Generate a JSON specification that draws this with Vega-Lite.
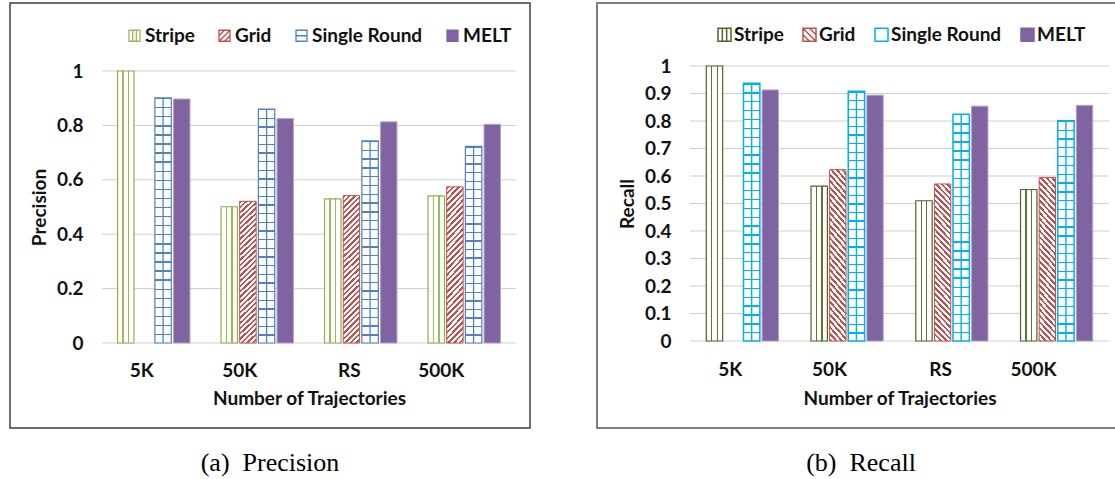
{
"$schema": "https://vega.github.io/schema/vega-lite/v6.json",
"padding": {"left": 9, "top": 2, "right": 0, "bottom": 0},
"spacing": 65,
"config": {"font": "Lato"},
"resolve": {"scale": {"fill": "independent", "stroke": "independent", "shape": "independent", "xOffset": "independent"}, "legend": {"fill": "independent", "stroke": "independent", "shape": "independent"}},
"datasets": {
"prec": [
{"size":"5K","method":"Stripe","v":1.0},
{"size":"5K","method":"Single Round","v":0.901},
{"size":"5K","method":"MELT","v":0.897},
{"size":"50K","method":"Stripe","v":0.501},
{"size":"50K","method":"Grid","v":0.521},
{"size":"50K","method":"Single Round","v":0.86},
{"size":"50K","method":"MELT","v":0.825},
{"size":"RS","method":"Stripe","v":0.53},
{"size":"RS","method":"Grid","v":0.542},
{"size":"RS","method":"Single Round","v":0.743},
{"size":"RS","method":"MELT","v":0.813},
{"size":"500K","method":"Stripe","v":0.541},
{"size":"500K","method":"Grid","v":0.574},
{"size":"500K","method":"Single Round","v":0.723},
{"size":"500K","method":"MELT","v":0.804}
],
"rec": [
{"size":"5K","method":"Stripe","v":1.0},
{"size":"5K","method":"Single Round","v":0.937},
{"size":"5K","method":"MELT","v":0.913},
{"size":"50K","method":"Stripe","v":0.563},
{"size":"50K","method":"Grid","v":0.623},
{"size":"50K","method":"Single Round","v":0.908},
{"size":"50K","method":"MELT","v":0.894},
{"size":"RS","method":"Stripe","v":0.51},
{"size":"RS","method":"Grid","v":0.571},
{"size":"RS","method":"Single Round","v":0.825},
{"size":"RS","method":"MELT","v":0.854},
{"size":"500K","method":"Stripe","v":0.551},
{"size":"500K","method":"Grid","v":0.595},
{"size":"500K","method":"Single Round","v":0.801},
{"size":"500K","method":"MELT","v":0.857}
],
"ticksP": [{"t":0},{"t":0.2},{"t":0.4},{"t":0.6},{"t":0.8},{"t":1}],
"ticksR": [{"t":0},{"t":0.1},{"t":0.2},{"t":0.3},{"t":0.4},{"t":0.5},{"t":0.6},{"t":0.7},{"t":0.8},{"t":0.9},{"t":1}]
},
"hconcat": [
{
"width": 520, "height": 425,
"view": {"stroke": "#404040", "strokeWidth": 1.5},
"title": {"text": "(a)\u00a0 Precision", "orient": "bottom", "font": "Liberation Serif", "fontSize": 26, "fontWeight": "normal", "color": "#000", "offset": 22},
"data": {"name": "prec"},
"layer": [
{
"data": {"name": "ticksP"},
"mark": {"type": "rule", "color": "#cfcfcf", "strokeWidth": 1},
"encoding": {
"x": {"datum": "5K", "bandPosition": 0},
"x2": {"datum": "500K", "bandPosition": 1},
"y": {"field": "t", "type": "quantitative", "title": "Precision",
"scale": {"domain": [0, 1], "range": [340, 68], "nice": false, "zero": true},
"axis": {"orient": "left", "offset": -92, "values": [0, 0.2, 0.4, 0.6, 0.8, 1], "format": "~g", "domain": false, "ticks": false, "tickSize": 0, "grid": false, "labelPadding": 19, "labelFont": "Lato", "labelFontSize": 19, "labelFontWeight": "bold", "labelColor": "#111", "titleFont": "Lato", "titleFontSize": 19, "titleFontWeight": "bold", "titleColor": "#111", "titlePadding": 7}}
}
},
{
"mark": {"type": "point", "filled": true, "size": 121, "strokeWidth": 1.3, "opacity": 1},
"encoding": {
"x": {"field": "size", "type": "nominal", "scale": {"domain": ["5K", "50K", "RS", "500K"], "range": [92, 506], "paddingInner": 0, "paddingOuter": 0}},
"xOffset": {"field": "method", "type": "nominal", "scale": {"domain": ["Stripe", "Grid", "Single Round", "MELT"], "paddingInner": 0.12, "paddingOuter": 0.832}},
"y": {"datum": 0.3, "type": "quantitative"},
"fill": {"field": "method", "type": "nominal", "scale": {"domain": ["Stripe", "Grid", "Single Round", "MELT"], "range": ["#ffffff", "#ffffff", "#ffffff", "#8064a2"]},
"legend": {"orient": "none", "legendX": 115, "legendY": 23, "direction": "horizontal", "title": null, "labelFont": "Lato", "labelFontSize": 19, "labelFontWeight": "bold", "labelColor": "#111", "symbolSize": 121, "symbolStrokeWidth": 1.3, "symbolOpacity": 1, "columnPadding": 20, "labelOffset": 1, "padding": 0}},
"stroke": {"field": "method", "type": "nominal", "scale": {"domain": ["Stripe", "Grid", "Single Round", "MELT"], "range": ["#9bbb59", "#c0504d", "#4f81bd", "#8064a2"]}},
"shape": {"field": "method", "type": "nominal", "scale": {"domain": ["Stripe", "Grid", "Single Round", "MELT"], "range": ["M-1,-1H1V1H-1Z M-0.33,-1V1 M0.33,-1V1", "M-1,-1H1V1H-1Z M-1,0L0,-1 M-1,1L1,-1 M0,1L1,0", "M-1,-1H1V1H-1Z M-1,0H1", "square"]}}
}
},
{
"transform": [{"filter": "datum.method === 'Stripe'"}],
"mark": {"type": "bar", "stroke": "#8db04c", "strokeWidth": 1.2,
"fill": {"gradient": "linear", "x1": 0, "y1": 0, "x2": 1, "y2": 0, "stops": [
{"offset": 0, "color": "#fff"}, {"offset": 0.295, "color": "#fff"}, {"offset": 0.295, "color": "#9bbb59"}, {"offset": 0.37, "color": "#9bbb59"}, {"offset": 0.37, "color": "#fff"}, {"offset": 0.63, "color": "#fff"}, {"offset": 0.63, "color": "#9bbb59"}, {"offset": 0.705, "color": "#9bbb59"}, {"offset": 0.705, "color": "#fff"}, {"offset": 1, "color": "#fff"}]}},
"encoding": {
"x": {"field": "size", "type": "nominal", "title": "Number of Trajectories", "scale": {"domain": ["5K", "50K", "RS", "500K"], "range": [92, 506], "paddingInner": 0, "paddingOuter": 0},
"axis": {"orient": "bottom", "offset": -85, "labelAngle": 0, "domain": false, "ticks": false, "tickSize": 0, "labelPadding": 27, "labelFont": "Lato", "labelFontSize": 19, "labelFontWeight": "bold", "labelColor": "#111", "title": "Number of Trajectories", "titleFont": "Lato", "titleFontSize": 19, "titleFontWeight": "bold", "titleColor": "#111", "titlePadding": 9}},
"xOffset": {"field": "method", "type": "nominal", "scale": {"domain": ["Stripe", "Grid", "Single Round", "MELT"], "paddingInner": 0.12, "paddingOuter": 0.832}},
"y": {"field": "v", "type": "quantitative", "title": "Precision", "scale": {"domain": [0, 1], "range": [340, 68], "nice": false, "zero": true}}
}
},
{
"transform": [{"filter": "datum.method === 'Grid'"}],
"mark": {"type": "bar", "stroke": "#c0504d", "strokeWidth": 1,
"fill": {"gradient": "linear", "x1": 0, "y1": 0, "x2": 0.12, "y2": 1.1, "stops": [
{"offset":0,"color":"#c0504d"},{"offset":0.015,"color":"#c0504d"},{"offset":0.015,"color":"#fff"},{"offset":0.0333,"color":"#fff"},
{"offset":0.0333,"color":"#c0504d"},{"offset":0.0483,"color":"#c0504d"},{"offset":0.0483,"color":"#fff"},{"offset":0.0667,"color":"#fff"},
{"offset":0.0667,"color":"#c0504d"},{"offset":0.0817,"color":"#c0504d"},{"offset":0.0817,"color":"#fff"},{"offset":0.1,"color":"#fff"},
{"offset":0.1,"color":"#c0504d"},{"offset":0.115,"color":"#c0504d"},{"offset":0.115,"color":"#fff"},{"offset":0.1333,"color":"#fff"},
{"offset":0.1333,"color":"#c0504d"},{"offset":0.1483,"color":"#c0504d"},{"offset":0.1483,"color":"#fff"},{"offset":0.1667,"color":"#fff"},
{"offset":0.1667,"color":"#c0504d"},{"offset":0.1817,"color":"#c0504d"},{"offset":0.1817,"color":"#fff"},{"offset":0.2,"color":"#fff"},
{"offset":0.2,"color":"#c0504d"},{"offset":0.215,"color":"#c0504d"},{"offset":0.215,"color":"#fff"},{"offset":0.2333,"color":"#fff"},
{"offset":0.2333,"color":"#c0504d"},{"offset":0.2483,"color":"#c0504d"},{"offset":0.2483,"color":"#fff"},{"offset":0.2667,"color":"#fff"},
{"offset":0.2667,"color":"#c0504d"},{"offset":0.2817,"color":"#c0504d"},{"offset":0.2817,"color":"#fff"},{"offset":0.3,"color":"#fff"},
{"offset":0.3,"color":"#c0504d"},{"offset":0.315,"color":"#c0504d"},{"offset":0.315,"color":"#fff"},{"offset":0.3333,"color":"#fff"},
{"offset":0.3333,"color":"#c0504d"},{"offset":0.3483,"color":"#c0504d"},{"offset":0.3483,"color":"#fff"},{"offset":0.3667,"color":"#fff"},
{"offset":0.3667,"color":"#c0504d"},{"offset":0.3817,"color":"#c0504d"},{"offset":0.3817,"color":"#fff"},{"offset":0.4,"color":"#fff"},
{"offset":0.4,"color":"#c0504d"},{"offset":0.415,"color":"#c0504d"},{"offset":0.415,"color":"#fff"},{"offset":0.4333,"color":"#fff"},
{"offset":0.4333,"color":"#c0504d"},{"offset":0.4483,"color":"#c0504d"},{"offset":0.4483,"color":"#fff"},{"offset":0.4667,"color":"#fff"},
{"offset":0.4667,"color":"#c0504d"},{"offset":0.4817,"color":"#c0504d"},{"offset":0.4817,"color":"#fff"},{"offset":0.5,"color":"#fff"},
{"offset":0.5,"color":"#c0504d"},{"offset":0.515,"color":"#c0504d"},{"offset":0.515,"color":"#fff"},{"offset":0.5333,"color":"#fff"},
{"offset":0.5333,"color":"#c0504d"},{"offset":0.5483,"color":"#c0504d"},{"offset":0.5483,"color":"#fff"},{"offset":0.5667,"color":"#fff"},
{"offset":0.5667,"color":"#c0504d"},{"offset":0.5817,"color":"#c0504d"},{"offset":0.5817,"color":"#fff"},{"offset":0.6,"color":"#fff"},
{"offset":0.6,"color":"#c0504d"},{"offset":0.615,"color":"#c0504d"},{"offset":0.615,"color":"#fff"},{"offset":0.6333,"color":"#fff"},
{"offset":0.6333,"color":"#c0504d"},{"offset":0.6483,"color":"#c0504d"},{"offset":0.6483,"color":"#fff"},{"offset":0.6667,"color":"#fff"},
{"offset":0.6667,"color":"#c0504d"},{"offset":0.6817,"color":"#c0504d"},{"offset":0.6817,"color":"#fff"},{"offset":0.7,"color":"#fff"},
{"offset":0.7,"color":"#c0504d"},{"offset":0.715,"color":"#c0504d"},{"offset":0.715,"color":"#fff"},{"offset":0.7333,"color":"#fff"},
{"offset":0.7333,"color":"#c0504d"},{"offset":0.7483,"color":"#c0504d"},{"offset":0.7483,"color":"#fff"},{"offset":0.7667,"color":"#fff"},
{"offset":0.7667,"color":"#c0504d"},{"offset":0.7817,"color":"#c0504d"},{"offset":0.7817,"color":"#fff"},{"offset":0.8,"color":"#fff"},
{"offset":0.8,"color":"#c0504d"},{"offset":0.815,"color":"#c0504d"},{"offset":0.815,"color":"#fff"},{"offset":0.8333,"color":"#fff"},
{"offset":0.8333,"color":"#c0504d"},{"offset":0.8483,"color":"#c0504d"},{"offset":0.8483,"color":"#fff"},{"offset":0.8667,"color":"#fff"},
{"offset":0.8667,"color":"#c0504d"},{"offset":0.8817,"color":"#c0504d"},{"offset":0.8817,"color":"#fff"},{"offset":0.9,"color":"#fff"},
{"offset":0.9,"color":"#c0504d"},{"offset":0.915,"color":"#c0504d"},{"offset":0.915,"color":"#fff"},{"offset":0.9333,"color":"#fff"},
{"offset":0.9333,"color":"#c0504d"},{"offset":0.9483,"color":"#c0504d"},{"offset":0.9483,"color":"#fff"},{"offset":0.9667,"color":"#fff"},
{"offset":0.9667,"color":"#c0504d"},{"offset":0.9817,"color":"#c0504d"},{"offset":0.9817,"color":"#fff"},{"offset":1,"color":"#fff"}]}},
"encoding": {
"x": {"field": "size", "type": "nominal", "scale": {"domain": ["5K", "50K", "RS", "500K"], "range": [92, 506], "paddingInner": 0, "paddingOuter": 0}},
"xOffset": {"field": "method", "type": "nominal", "scale": {"domain": ["Stripe", "Grid", "Single Round", "MELT"], "paddingInner": 0.12, "paddingOuter": 0.832}},
"y": {"field": "v", "type": "quantitative", "title": "Precision", "scale": {"domain": [0, 1], "range": [340, 68], "nice": false, "zero": true}}
}
},
{
"transform": [{"filter": "datum.method === 'Single Round' && datum.v >= 0.8"}],
"mark": {"type": "bar", "stroke": "#4f81bd", "strokeWidth": 1.2,
"fill": {"gradient": "linear", "x1": 0, "y1": 0, "x2": 0, "y2": 1, "stops": [
{"offset":0,"color":"#4f81bd"},{"offset":0.0056,"color":"#4f81bd"},{"offset":0.0056,"color":"#fff"},{"offset":0.037,"color":"#fff"},
{"offset":0.037,"color":"#4f81bd"},{"offset":0.0426,"color":"#4f81bd"},{"offset":0.0426,"color":"#fff"},{"offset":0.0741,"color":"#fff"},
{"offset":0.0741,"color":"#4f81bd"},{"offset":0.0797,"color":"#4f81bd"},{"offset":0.0797,"color":"#fff"},{"offset":0.1111,"color":"#fff"},
{"offset":0.1111,"color":"#4f81bd"},{"offset":0.1167,"color":"#4f81bd"},{"offset":0.1167,"color":"#fff"},{"offset":0.1481,"color":"#fff"},
{"offset":0.1481,"color":"#4f81bd"},{"offset":0.1537,"color":"#4f81bd"},{"offset":0.1537,"color":"#fff"},{"offset":0.1852,"color":"#fff"},
{"offset":0.1852,"color":"#4f81bd"},{"offset":0.1908,"color":"#4f81bd"},{"offset":0.1908,"color":"#fff"},{"offset":0.2222,"color":"#fff"},
{"offset":0.2222,"color":"#4f81bd"},{"offset":0.2278,"color":"#4f81bd"},{"offset":0.2278,"color":"#fff"},{"offset":0.2593,"color":"#fff"},
{"offset":0.2593,"color":"#4f81bd"},{"offset":0.2649,"color":"#4f81bd"},{"offset":0.2649,"color":"#fff"},{"offset":0.2963,"color":"#fff"},
{"offset":0.2963,"color":"#4f81bd"},{"offset":0.3019,"color":"#4f81bd"},{"offset":0.3019,"color":"#fff"},{"offset":0.3333,"color":"#fff"},
{"offset":0.3333,"color":"#4f81bd"},{"offset":0.3389,"color":"#4f81bd"},{"offset":0.3389,"color":"#fff"},{"offset":0.3704,"color":"#fff"},
{"offset":0.3704,"color":"#4f81bd"},{"offset":0.376,"color":"#4f81bd"},{"offset":0.376,"color":"#fff"},{"offset":0.4074,"color":"#fff"},
{"offset":0.4074,"color":"#4f81bd"},{"offset":0.413,"color":"#4f81bd"},{"offset":0.413,"color":"#fff"},{"offset":0.4444,"color":"#fff"},
{"offset":0.4444,"color":"#4f81bd"},{"offset":0.45,"color":"#4f81bd"},{"offset":0.45,"color":"#fff"},{"offset":0.4815,"color":"#fff"},
{"offset":0.4815,"color":"#4f81bd"},{"offset":0.4871,"color":"#4f81bd"},{"offset":0.4871,"color":"#fff"},{"offset":0.5185,"color":"#fff"},
{"offset":0.5185,"color":"#4f81bd"},{"offset":0.5241,"color":"#4f81bd"},{"offset":0.5241,"color":"#fff"},{"offset":0.5556,"color":"#fff"},
{"offset":0.5556,"color":"#4f81bd"},{"offset":0.5612,"color":"#4f81bd"},{"offset":0.5612,"color":"#fff"},{"offset":0.5926,"color":"#fff"},
{"offset":0.5926,"color":"#4f81bd"},{"offset":0.5982,"color":"#4f81bd"},{"offset":0.5982,"color":"#fff"},{"offset":0.6296,"color":"#fff"},
{"offset":0.6296,"color":"#4f81bd"},{"offset":0.6352,"color":"#4f81bd"},{"offset":0.6352,"color":"#fff"},{"offset":0.6667,"color":"#fff"},
{"offset":0.6667,"color":"#4f81bd"},{"offset":0.6723,"color":"#4f81bd"},{"offset":0.6723,"color":"#fff"},{"offset":0.7037,"color":"#fff"},
{"offset":0.7037,"color":"#4f81bd"},{"offset":0.7093,"color":"#4f81bd"},{"offset":0.7093,"color":"#fff"},{"offset":0.7407,"color":"#fff"},
{"offset":0.7407,"color":"#4f81bd"},{"offset":0.7463,"color":"#4f81bd"},{"offset":0.7463,"color":"#fff"},{"offset":0.7778,"color":"#fff"},
{"offset":0.7778,"color":"#4f81bd"},{"offset":0.7834,"color":"#4f81bd"},{"offset":0.7834,"color":"#fff"},{"offset":0.8148,"color":"#fff"},
{"offset":0.8148,"color":"#4f81bd"},{"offset":0.8204,"color":"#4f81bd"},{"offset":0.8204,"color":"#fff"},{"offset":0.8519,"color":"#fff"},
{"offset":0.8519,"color":"#4f81bd"},{"offset":0.8575,"color":"#4f81bd"},{"offset":0.8575,"color":"#fff"},{"offset":0.8889,"color":"#fff"},
{"offset":0.8889,"color":"#4f81bd"},{"offset":0.8945,"color":"#4f81bd"},{"offset":0.8945,"color":"#fff"},{"offset":0.9259,"color":"#fff"},
{"offset":0.9259,"color":"#4f81bd"},{"offset":0.9315,"color":"#4f81bd"},{"offset":0.9315,"color":"#fff"},{"offset":0.963,"color":"#fff"},
{"offset":0.963,"color":"#4f81bd"},{"offset":0.9686,"color":"#4f81bd"},{"offset":0.9686,"color":"#fff"},{"offset":1,"color":"#fff"}]}},
"encoding": {
"x": {"field": "size", "type": "nominal", "scale": {"domain": ["5K", "50K", "RS", "500K"], "range": [92, 506], "paddingInner": 0, "paddingOuter": 0}},
"xOffset": {"field": "method", "type": "nominal", "scale": {"domain": ["Stripe", "Grid", "Single Round", "MELT"], "paddingInner": 0.12, "paddingOuter": 0.832}},
"y": {"field": "v", "type": "quantitative", "title": "Precision", "scale": {"domain": [0, 1], "range": [340, 68], "nice": false, "zero": true}}
}
},
{
"transform": [{"filter": "datum.method === 'Single Round' && datum.v < 0.8"}],
"mark": {"type": "bar", "stroke": "#4f81bd", "strokeWidth": 1.2,
"fill": {"gradient": "linear", "x1": 0, "y1": 0, "x2": 0, "y2": 1, "stops": [
{"offset":0,"color":"#4f81bd"},{"offset":0.0065,"color":"#4f81bd"},{"offset":0.0065,"color":"#fff"},{"offset":0.0435,"color":"#fff"},
{"offset":0.0435,"color":"#4f81bd"},{"offset":0.05,"color":"#4f81bd"},{"offset":0.05,"color":"#fff"},{"offset":0.087,"color":"#fff"},
{"offset":0.087,"color":"#4f81bd"},{"offset":0.0935,"color":"#4f81bd"},{"offset":0.0935,"color":"#fff"},{"offset":0.1304,"color":"#fff"},
{"offset":0.1304,"color":"#4f81bd"},{"offset":0.1369,"color":"#4f81bd"},{"offset":0.1369,"color":"#fff"},{"offset":0.1739,"color":"#fff"},
{"offset":0.1739,"color":"#4f81bd"},{"offset":0.1804,"color":"#4f81bd"},{"offset":0.1804,"color":"#fff"},{"offset":0.2174,"color":"#fff"},
{"offset":0.2174,"color":"#4f81bd"},{"offset":0.2239,"color":"#4f81bd"},{"offset":0.2239,"color":"#fff"},{"offset":0.2609,"color":"#fff"},
{"offset":0.2609,"color":"#4f81bd"},{"offset":0.2674,"color":"#4f81bd"},{"offset":0.2674,"color":"#fff"},{"offset":0.3043,"color":"#fff"},
{"offset":0.3043,"color":"#4f81bd"},{"offset":0.3108,"color":"#4f81bd"},{"offset":0.3108,"color":"#fff"},{"offset":0.3478,"color":"#fff"},
{"offset":0.3478,"color":"#4f81bd"},{"offset":0.3543,"color":"#4f81bd"},{"offset":0.3543,"color":"#fff"},{"offset":0.3913,"color":"#fff"},
{"offset":0.3913,"color":"#4f81bd"},{"offset":0.3978,"color":"#4f81bd"},{"offset":0.3978,"color":"#fff"},{"offset":0.4348,"color":"#fff"},
{"offset":0.4348,"color":"#4f81bd"},{"offset":0.4413,"color":"#4f81bd"},{"offset":0.4413,"color":"#fff"},{"offset":0.4783,"color":"#fff"},
{"offset":0.4783,"color":"#4f81bd"},{"offset":0.4848,"color":"#4f81bd"},{"offset":0.4848,"color":"#fff"},{"offset":0.5217,"color":"#fff"},
{"offset":0.5217,"color":"#4f81bd"},{"offset":0.5282,"color":"#4f81bd"},{"offset":0.5282,"color":"#fff"},{"offset":0.5652,"color":"#fff"},
{"offset":0.5652,"color":"#4f81bd"},{"offset":0.5717,"color":"#4f81bd"},{"offset":0.5717,"color":"#fff"},{"offset":0.6087,"color":"#fff"},
{"offset":0.6087,"color":"#4f81bd"},{"offset":0.6152,"color":"#4f81bd"},{"offset":0.6152,"color":"#fff"},{"offset":0.6522,"color":"#fff"},
{"offset":0.6522,"color":"#4f81bd"},{"offset":0.6587,"color":"#4f81bd"},{"offset":0.6587,"color":"#fff"},{"offset":0.6957,"color":"#fff"},
{"offset":0.6957,"color":"#4f81bd"},{"offset":0.7022,"color":"#4f81bd"},{"offset":0.7022,"color":"#fff"},{"offset":0.7391,"color":"#fff"},
{"offset":0.7391,"color":"#4f81bd"},{"offset":0.7456,"color":"#4f81bd"},{"offset":0.7456,"color":"#fff"},{"offset":0.7826,"color":"#fff"},
{"offset":0.7826,"color":"#4f81bd"},{"offset":0.7891,"color":"#4f81bd"},{"offset":0.7891,"color":"#fff"},{"offset":0.8261,"color":"#fff"},
{"offset":0.8261,"color":"#4f81bd"},{"offset":0.8326,"color":"#4f81bd"},{"offset":0.8326,"color":"#fff"},{"offset":0.8696,"color":"#fff"},
{"offset":0.8696,"color":"#4f81bd"},{"offset":0.8761,"color":"#4f81bd"},{"offset":0.8761,"color":"#fff"},{"offset":0.913,"color":"#fff"},
{"offset":0.913,"color":"#4f81bd"},{"offset":0.9195,"color":"#4f81bd"},{"offset":0.9195,"color":"#fff"},{"offset":0.9565,"color":"#fff"},
{"offset":0.9565,"color":"#4f81bd"},{"offset":0.963,"color":"#4f81bd"},{"offset":0.963,"color":"#fff"},{"offset":1,"color":"#fff"}]}},
"encoding": {
"x": {"field": "size", "type": "nominal", "scale": {"domain": ["5K", "50K", "RS", "500K"], "range": [92, 506], "paddingInner": 0, "paddingOuter": 0}},
"xOffset": {"field": "method", "type": "nominal", "scale": {"domain": ["Stripe", "Grid", "Single Round", "MELT"], "paddingInner": 0.12, "paddingOuter": 0.832}},
"y": {"field": "v", "type": "quantitative", "title": "Precision", "scale": {"domain": [0, 1], "range": [340, 68], "nice": false, "zero": true}}
}
},
{
"transform": [{"filter": "datum.method === 'Single Round'"}],
"mark": {"type": "bar", "width": 1.3, "fill": "#4f81bd"},
"encoding": {
"x": {"field": "size", "type": "nominal", "scale": {"domain": ["5K", "50K", "RS", "500K"], "range": [92, 506], "paddingInner": 0, "paddingOuter": 0}},
"xOffset": {"field": "method", "type": "nominal", "scale": {"domain": ["Stripe", "Grid", "Single Round", "MELT"], "paddingInner": 0.12, "paddingOuter": 0.832}},
"y": {"field": "v", "type": "quantitative", "title": "Precision", "scale": {"domain": [0, 1], "range": [340, 68], "nice": false, "zero": true}}
}
},
{
"transform": [{"filter": "datum.method === 'MELT'"}],
"mark": {"type": "bar", "fill": "#8064a2", "stroke": "#b3a2c7", "strokeWidth": 1},
"encoding": {
"x": {"field": "size", "type": "nominal", "scale": {"domain": ["5K", "50K", "RS", "500K"], "range": [92, 506], "paddingInner": 0, "paddingOuter": 0}},
"xOffset": {"field": "method", "type": "nominal", "scale": {"domain": ["Stripe", "Grid", "Single Round", "MELT"], "paddingInner": 0.12, "paddingOuter": 0.832}},
"y": {"field": "v", "type": "quantitative", "title": "Precision", "scale": {"domain": [0, 1], "range": [340, 68], "nice": false, "zero": true}}
}
}
]
},
{
"width": 528, "height": 425,
"view": {"stroke": "#7f7f7f", "strokeWidth": 2},
"title": {"text": "(b)\u00a0 Recall", "orient": "bottom", "font": "Liberation Serif", "fontSize": 26, "fontWeight": "normal", "color": "#000", "offset": 22},
"data": {"name": "rec"},
"layer": [
{
"data": {"name": "ticksR"},
"mark": {"type": "rule", "color": "#cfcfcf", "strokeWidth": 1},
"encoding": {
"x": {"datum": "5K", "bandPosition": 0},
"x2": {"datum": "500K", "bandPosition": 1},
"y": {"field": "t", "type": "quantitative", "title": "Recall",
"scale": {"domain": [0, 1], "range": [338, 63], "nice": false, "zero": true},
"axis": {"orient": "left", "offset": -93, "values": [0, 0.1, 0.2, 0.3, 0.4, 0.5, 0.6, 0.7, 0.8, 0.9, 1], "format": "~g", "domain": false, "ticks": false, "tickSize": 0, "grid": false, "labelPadding": 19, "labelFont": "Lato", "labelFontSize": 19, "labelFontWeight": "bold", "labelColor": "#111", "titleFont": "Lato", "titleFontSize": 19, "titleFontWeight": "bold", "titleColor": "#111", "titlePadding": 7}}
}
},
{
"mark": {"type": "point", "filled": true, "size": 169, "strokeWidth": 1.5, "opacity": 1},
"encoding": {
"x": {"field": "size", "type": "nominal", "scale": {"domain": ["5K", "50K", "RS", "500K"], "range": [93, 512], "paddingInner": 0, "paddingOuter": 0}},
"xOffset": {"field": "method", "type": "nominal", "scale": {"domain": ["Stripe", "Grid", "Single Round", "MELT"], "paddingInner": 0.12, "paddingOuter": 0.876}},
"y": {"datum": 0.3, "type": "quantitative"},
"fill": {"field": "method", "type": "nominal", "scale": {"domain": ["Stripe", "Grid", "Single Round", "MELT"], "range": ["#ffffff", "#ffffff", "#ffffff", "#8064a2"]},
"legend": {"orient": "none", "legendX": 118, "legendY": 22, "direction": "horizontal", "title": null, "labelFont": "Lato", "labelFontSize": 19, "labelFontWeight": "bold", "labelColor": "#111", "symbolSize": 169, "symbolStrokeWidth": 1.5, "symbolOpacity": 1, "columnPadding": 16, "labelOffset": 0, "padding": 0}},
"stroke": {"field": "method", "type": "nominal", "scale": {"domain": ["Stripe", "Grid", "Single Round", "MELT"], "range": ["#4f6228", "#c0504d", "#00b0f0", "#8064a2"]}},
"shape": {"field": "method", "type": "nominal", "scale": {"domain": ["Stripe", "Grid", "Single Round", "MELT"], "range": ["M-1,-1H1V1H-1Z M-0.33,-1V1 M0.33,-1V1", "M-1,-1H1V1H-1Z M-1,0L0,1 M-1,-1L1,1 M0,-1L1,0", "M-1,-1H1V1H-1Z", "square"]}}
}
},
{
"transform": [{"filter": "datum.method === 'Stripe'"}],
"mark": {"type": "bar", "stroke": "#4f6228", "strokeWidth": 1.2,
"fill": {"gradient": "linear", "x1": 0, "y1": 0, "x2": 1, "y2": 0, "stops": [
{"offset": 0, "color": "#fff"}, {"offset": 0.295, "color": "#fff"}, {"offset": 0.295, "color": "#5f7530"}, {"offset": 0.37, "color": "#5f7530"}, {"offset": 0.37, "color": "#fff"}, {"offset": 0.63, "color": "#fff"}, {"offset": 0.63, "color": "#5f7530"}, {"offset": 0.705, "color": "#5f7530"}, {"offset": 0.705, "color": "#fff"}, {"offset": 1, "color": "#fff"}]}},
"encoding": {
"x": {"field": "size", "type": "nominal", "title": "Number of Trajectories", "scale": {"domain": ["5K", "50K", "RS", "500K"], "range": [93, 512], "paddingInner": 0, "paddingOuter": 0},
"axis": {"orient": "bottom", "offset": -87, "labelAngle": 0, "domain": false, "ticks": false, "tickSize": 0, "labelPadding": 28, "labelFont": "Lato", "labelFontSize": 19, "labelFontWeight": "bold", "labelColor": "#111", "title": "Number of Trajectories", "titleFont": "Lato", "titleFontSize": 19, "titleFontWeight": "bold", "titleColor": "#111", "titlePadding": 10}},
"xOffset": {"field": "method", "type": "nominal", "scale": {"domain": ["Stripe", "Grid", "Single Round", "MELT"], "paddingInner": 0.12, "paddingOuter": 0.876}},
"y": {"field": "v", "type": "quantitative", "title": "Recall", "scale": {"domain": [0, 1], "range": [338, 63], "nice": false, "zero": true}}
}
},
{
"transform": [{"filter": "datum.method === 'Grid'"}],
"mark": {"type": "bar", "stroke": "#c0504d", "strokeWidth": 1,
"fill": {"gradient": "linear", "x1": 0, "y1": 1, "x2": 0.12, "y2": -0.1, "stops": [
{"offset":0,"color":"#c0504d"},{"offset":0.015,"color":"#c0504d"},{"offset":0.015,"color":"#fff"},{"offset":0.0333,"color":"#fff"},
{"offset":0.0333,"color":"#c0504d"},{"offset":0.0483,"color":"#c0504d"},{"offset":0.0483,"color":"#fff"},{"offset":0.0667,"color":"#fff"},
{"offset":0.0667,"color":"#c0504d"},{"offset":0.0817,"color":"#c0504d"},{"offset":0.0817,"color":"#fff"},{"offset":0.1,"color":"#fff"},
{"offset":0.1,"color":"#c0504d"},{"offset":0.115,"color":"#c0504d"},{"offset":0.115,"color":"#fff"},{"offset":0.1333,"color":"#fff"},
{"offset":0.1333,"color":"#c0504d"},{"offset":0.1483,"color":"#c0504d"},{"offset":0.1483,"color":"#fff"},{"offset":0.1667,"color":"#fff"},
{"offset":0.1667,"color":"#c0504d"},{"offset":0.1817,"color":"#c0504d"},{"offset":0.1817,"color":"#fff"},{"offset":0.2,"color":"#fff"},
{"offset":0.2,"color":"#c0504d"},{"offset":0.215,"color":"#c0504d"},{"offset":0.215,"color":"#fff"},{"offset":0.2333,"color":"#fff"},
{"offset":0.2333,"color":"#c0504d"},{"offset":0.2483,"color":"#c0504d"},{"offset":0.2483,"color":"#fff"},{"offset":0.2667,"color":"#fff"},
{"offset":0.2667,"color":"#c0504d"},{"offset":0.2817,"color":"#c0504d"},{"offset":0.2817,"color":"#fff"},{"offset":0.3,"color":"#fff"},
{"offset":0.3,"color":"#c0504d"},{"offset":0.315,"color":"#c0504d"},{"offset":0.315,"color":"#fff"},{"offset":0.3333,"color":"#fff"},
{"offset":0.3333,"color":"#c0504d"},{"offset":0.3483,"color":"#c0504d"},{"offset":0.3483,"color":"#fff"},{"offset":0.3667,"color":"#fff"},
{"offset":0.3667,"color":"#c0504d"},{"offset":0.3817,"color":"#c0504d"},{"offset":0.3817,"color":"#fff"},{"offset":0.4,"color":"#fff"},
{"offset":0.4,"color":"#c0504d"},{"offset":0.415,"color":"#c0504d"},{"offset":0.415,"color":"#fff"},{"offset":0.4333,"color":"#fff"},
{"offset":0.4333,"color":"#c0504d"},{"offset":0.4483,"color":"#c0504d"},{"offset":0.4483,"color":"#fff"},{"offset":0.4667,"color":"#fff"},
{"offset":0.4667,"color":"#c0504d"},{"offset":0.4817,"color":"#c0504d"},{"offset":0.4817,"color":"#fff"},{"offset":0.5,"color":"#fff"},
{"offset":0.5,"color":"#c0504d"},{"offset":0.515,"color":"#c0504d"},{"offset":0.515,"color":"#fff"},{"offset":0.5333,"color":"#fff"},
{"offset":0.5333,"color":"#c0504d"},{"offset":0.5483,"color":"#c0504d"},{"offset":0.5483,"color":"#fff"},{"offset":0.5667,"color":"#fff"},
{"offset":0.5667,"color":"#c0504d"},{"offset":0.5817,"color":"#c0504d"},{"offset":0.5817,"color":"#fff"},{"offset":0.6,"color":"#fff"},
{"offset":0.6,"color":"#c0504d"},{"offset":0.615,"color":"#c0504d"},{"offset":0.615,"color":"#fff"},{"offset":0.6333,"color":"#fff"},
{"offset":0.6333,"color":"#c0504d"},{"offset":0.6483,"color":"#c0504d"},{"offset":0.6483,"color":"#fff"},{"offset":0.6667,"color":"#fff"},
{"offset":0.6667,"color":"#c0504d"},{"offset":0.6817,"color":"#c0504d"},{"offset":0.6817,"color":"#fff"},{"offset":0.7,"color":"#fff"},
{"offset":0.7,"color":"#c0504d"},{"offset":0.715,"color":"#c0504d"},{"offset":0.715,"color":"#fff"},{"offset":0.7333,"color":"#fff"},
{"offset":0.7333,"color":"#c0504d"},{"offset":0.7483,"color":"#c0504d"},{"offset":0.7483,"color":"#fff"},{"offset":0.7667,"color":"#fff"},
{"offset":0.7667,"color":"#c0504d"},{"offset":0.7817,"color":"#c0504d"},{"offset":0.7817,"color":"#fff"},{"offset":0.8,"color":"#fff"},
{"offset":0.8,"color":"#c0504d"},{"offset":0.815,"color":"#c0504d"},{"offset":0.815,"color":"#fff"},{"offset":0.8333,"color":"#fff"},
{"offset":0.8333,"color":"#c0504d"},{"offset":0.8483,"color":"#c0504d"},{"offset":0.8483,"color":"#fff"},{"offset":0.8667,"color":"#fff"},
{"offset":0.8667,"color":"#c0504d"},{"offset":0.8817,"color":"#c0504d"},{"offset":0.8817,"color":"#fff"},{"offset":0.9,"color":"#fff"},
{"offset":0.9,"color":"#c0504d"},{"offset":0.915,"color":"#c0504d"},{"offset":0.915,"color":"#fff"},{"offset":0.9333,"color":"#fff"},
{"offset":0.9333,"color":"#c0504d"},{"offset":0.9483,"color":"#c0504d"},{"offset":0.9483,"color":"#fff"},{"offset":0.9667,"color":"#fff"},
{"offset":0.9667,"color":"#c0504d"},{"offset":0.9817,"color":"#c0504d"},{"offset":0.9817,"color":"#fff"},{"offset":1,"color":"#fff"}]}},
"encoding": {
"x": {"field": "size", "type": "nominal", "scale": {"domain": ["5K", "50K", "RS", "500K"], "range": [93, 512], "paddingInner": 0, "paddingOuter": 0}},
"xOffset": {"field": "method", "type": "nominal", "scale": {"domain": ["Stripe", "Grid", "Single Round", "MELT"], "paddingInner": 0.12, "paddingOuter": 0.876}},
"y": {"field": "v", "type": "quantitative", "title": "Recall", "scale": {"domain": [0, 1], "range": [338, 63], "nice": false, "zero": true}}
}
},
{
"transform": [{"filter": "datum.method === 'Single Round' && datum.v >= 0.85"}],
"mark": {"type": "bar", "stroke": "#00b0f0", "strokeWidth": 1.5,
"fill": {"gradient": "linear", "x1": 0, "y1": 0, "x2": 0, "y2": 1, "stops": [
{"offset":0,"color":"#00b0f0"},{"offset":0.0052,"color":"#00b0f0"},{"offset":0.0052,"color":"#fff"},{"offset":0.0345,"color":"#fff"},
{"offset":0.0345,"color":"#00b0f0"},{"offset":0.0397,"color":"#00b0f0"},{"offset":0.0397,"color":"#fff"},{"offset":0.069,"color":"#fff"},
{"offset":0.069,"color":"#00b0f0"},{"offset":0.0742,"color":"#00b0f0"},{"offset":0.0742,"color":"#fff"},{"offset":0.1034,"color":"#fff"},
{"offset":0.1034,"color":"#00b0f0"},{"offset":0.1086,"color":"#00b0f0"},{"offset":0.1086,"color":"#fff"},{"offset":0.1379,"color":"#fff"},
{"offset":0.1379,"color":"#00b0f0"},{"offset":0.1431,"color":"#00b0f0"},{"offset":0.1431,"color":"#fff"},{"offset":0.1724,"color":"#fff"},
{"offset":0.1724,"color":"#00b0f0"},{"offset":0.1776,"color":"#00b0f0"},{"offset":0.1776,"color":"#fff"},{"offset":0.2069,"color":"#fff"},
{"offset":0.2069,"color":"#00b0f0"},{"offset":0.2121,"color":"#00b0f0"},{"offset":0.2121,"color":"#fff"},{"offset":0.2414,"color":"#fff"},
{"offset":0.2414,"color":"#00b0f0"},{"offset":0.2466,"color":"#00b0f0"},{"offset":0.2466,"color":"#fff"},{"offset":0.2759,"color":"#fff"},
{"offset":0.2759,"color":"#00b0f0"},{"offset":0.2811,"color":"#00b0f0"},{"offset":0.2811,"color":"#fff"},{"offset":0.3103,"color":"#fff"},
{"offset":0.3103,"color":"#00b0f0"},{"offset":0.3155,"color":"#00b0f0"},{"offset":0.3155,"color":"#fff"},{"offset":0.3448,"color":"#fff"},
{"offset":0.3448,"color":"#00b0f0"},{"offset":0.35,"color":"#00b0f0"},{"offset":0.35,"color":"#fff"},{"offset":0.3793,"color":"#fff"},
{"offset":0.3793,"color":"#00b0f0"},{"offset":0.3845,"color":"#00b0f0"},{"offset":0.3845,"color":"#fff"},{"offset":0.4138,"color":"#fff"},
{"offset":0.4138,"color":"#00b0f0"},{"offset":0.419,"color":"#00b0f0"},{"offset":0.419,"color":"#fff"},{"offset":0.4483,"color":"#fff"},
{"offset":0.4483,"color":"#00b0f0"},{"offset":0.4535,"color":"#00b0f0"},{"offset":0.4535,"color":"#fff"},{"offset":0.4828,"color":"#fff"},
{"offset":0.4828,"color":"#00b0f0"},{"offset":0.488,"color":"#00b0f0"},{"offset":0.488,"color":"#fff"},{"offset":0.5172,"color":"#fff"},
{"offset":0.5172,"color":"#00b0f0"},{"offset":0.5224,"color":"#00b0f0"},{"offset":0.5224,"color":"#fff"},{"offset":0.5517,"color":"#fff"},
{"offset":0.5517,"color":"#00b0f0"},{"offset":0.5569,"color":"#00b0f0"},{"offset":0.5569,"color":"#fff"},{"offset":0.5862,"color":"#fff"},
{"offset":0.5862,"color":"#00b0f0"},{"offset":0.5914,"color":"#00b0f0"},{"offset":0.5914,"color":"#fff"},{"offset":0.6207,"color":"#fff"},
{"offset":0.6207,"color":"#00b0f0"},{"offset":0.6259,"color":"#00b0f0"},{"offset":0.6259,"color":"#fff"},{"offset":0.6552,"color":"#fff"},
{"offset":0.6552,"color":"#00b0f0"},{"offset":0.6604,"color":"#00b0f0"},{"offset":0.6604,"color":"#fff"},{"offset":0.6897,"color":"#fff"},
{"offset":0.6897,"color":"#00b0f0"},{"offset":0.6949,"color":"#00b0f0"},{"offset":0.6949,"color":"#fff"},{"offset":0.7241,"color":"#fff"},
{"offset":0.7241,"color":"#00b0f0"},{"offset":0.7293,"color":"#00b0f0"},{"offset":0.7293,"color":"#fff"},{"offset":0.7586,"color":"#fff"},
{"offset":0.7586,"color":"#00b0f0"},{"offset":0.7638,"color":"#00b0f0"},{"offset":0.7638,"color":"#fff"},{"offset":0.7931,"color":"#fff"},
{"offset":0.7931,"color":"#00b0f0"},{"offset":0.7983,"color":"#00b0f0"},{"offset":0.7983,"color":"#fff"},{"offset":0.8276,"color":"#fff"},
{"offset":0.8276,"color":"#00b0f0"},{"offset":0.8328,"color":"#00b0f0"},{"offset":0.8328,"color":"#fff"},{"offset":0.8621,"color":"#fff"},
{"offset":0.8621,"color":"#00b0f0"},{"offset":0.8673,"color":"#00b0f0"},{"offset":0.8673,"color":"#fff"},{"offset":0.8966,"color":"#fff"},
{"offset":0.8966,"color":"#00b0f0"},{"offset":0.9018,"color":"#00b0f0"},{"offset":0.9018,"color":"#fff"},{"offset":0.931,"color":"#fff"},
{"offset":0.931,"color":"#00b0f0"},{"offset":0.9362,"color":"#00b0f0"},{"offset":0.9362,"color":"#fff"},{"offset":0.9655,"color":"#fff"},
{"offset":0.9655,"color":"#00b0f0"},{"offset":0.9707,"color":"#00b0f0"},{"offset":0.9707,"color":"#fff"},{"offset":1,"color":"#fff"}]}},
"encoding": {
"x": {"field": "size", "type": "nominal", "scale": {"domain": ["5K", "50K", "RS", "500K"], "range": [93, 512], "paddingInner": 0, "paddingOuter": 0}},
"xOffset": {"field": "method", "type": "nominal", "scale": {"domain": ["Stripe", "Grid", "Single Round", "MELT"], "paddingInner": 0.12, "paddingOuter": 0.876}},
"y": {"field": "v", "type": "quantitative", "title": "Recall", "scale": {"domain": [0, 1], "range": [338, 63], "nice": false, "zero": true}}
}
},
{
"transform": [{"filter": "datum.method === 'Single Round' && datum.v < 0.85"}],
"mark": {"type": "bar", "stroke": "#00b0f0", "strokeWidth": 1.5,
"fill": {"gradient": "linear", "x1": 0, "y1": 0, "x2": 0, "y2": 1, "stops": [
{"offset":0,"color":"#00b0f0"},{"offset":0.006,"color":"#00b0f0"},{"offset":0.006,"color":"#fff"},{"offset":0.04,"color":"#fff"},
{"offset":0.04,"color":"#00b0f0"},{"offset":0.046,"color":"#00b0f0"},{"offset":0.046,"color":"#fff"},{"offset":0.08,"color":"#fff"},
{"offset":0.08,"color":"#00b0f0"},{"offset":0.086,"color":"#00b0f0"},{"offset":0.086,"color":"#fff"},{"offset":0.12,"color":"#fff"},
{"offset":0.12,"color":"#00b0f0"},{"offset":0.126,"color":"#00b0f0"},{"offset":0.126,"color":"#fff"},{"offset":0.16,"color":"#fff"},
{"offset":0.16,"color":"#00b0f0"},{"offset":0.166,"color":"#00b0f0"},{"offset":0.166,"color":"#fff"},{"offset":0.2,"color":"#fff"},
{"offset":0.2,"color":"#00b0f0"},{"offset":0.206,"color":"#00b0f0"},{"offset":0.206,"color":"#fff"},{"offset":0.24,"color":"#fff"},
{"offset":0.24,"color":"#00b0f0"},{"offset":0.246,"color":"#00b0f0"},{"offset":0.246,"color":"#fff"},{"offset":0.28,"color":"#fff"},
{"offset":0.28,"color":"#00b0f0"},{"offset":0.286,"color":"#00b0f0"},{"offset":0.286,"color":"#fff"},{"offset":0.32,"color":"#fff"},
{"offset":0.32,"color":"#00b0f0"},{"offset":0.326,"color":"#00b0f0"},{"offset":0.326,"color":"#fff"},{"offset":0.36,"color":"#fff"},
{"offset":0.36,"color":"#00b0f0"},{"offset":0.366,"color":"#00b0f0"},{"offset":0.366,"color":"#fff"},{"offset":0.4,"color":"#fff"},
{"offset":0.4,"color":"#00b0f0"},{"offset":0.406,"color":"#00b0f0"},{"offset":0.406,"color":"#fff"},{"offset":0.44,"color":"#fff"},
{"offset":0.44,"color":"#00b0f0"},{"offset":0.446,"color":"#00b0f0"},{"offset":0.446,"color":"#fff"},{"offset":0.48,"color":"#fff"},
{"offset":0.48,"color":"#00b0f0"},{"offset":0.486,"color":"#00b0f0"},{"offset":0.486,"color":"#fff"},{"offset":0.52,"color":"#fff"},
{"offset":0.52,"color":"#00b0f0"},{"offset":0.526,"color":"#00b0f0"},{"offset":0.526,"color":"#fff"},{"offset":0.56,"color":"#fff"},
{"offset":0.56,"color":"#00b0f0"},{"offset":0.566,"color":"#00b0f0"},{"offset":0.566,"color":"#fff"},{"offset":0.6,"color":"#fff"},
{"offset":0.6,"color":"#00b0f0"},{"offset":0.606,"color":"#00b0f0"},{"offset":0.606,"color":"#fff"},{"offset":0.64,"color":"#fff"},
{"offset":0.64,"color":"#00b0f0"},{"offset":0.646,"color":"#00b0f0"},{"offset":0.646,"color":"#fff"},{"offset":0.68,"color":"#fff"},
{"offset":0.68,"color":"#00b0f0"},{"offset":0.686,"color":"#00b0f0"},{"offset":0.686,"color":"#fff"},{"offset":0.72,"color":"#fff"},
{"offset":0.72,"color":"#00b0f0"},{"offset":0.726,"color":"#00b0f0"},{"offset":0.726,"color":"#fff"},{"offset":0.76,"color":"#fff"},
{"offset":0.76,"color":"#00b0f0"},{"offset":0.766,"color":"#00b0f0"},{"offset":0.766,"color":"#fff"},{"offset":0.8,"color":"#fff"},
{"offset":0.8,"color":"#00b0f0"},{"offset":0.806,"color":"#00b0f0"},{"offset":0.806,"color":"#fff"},{"offset":0.84,"color":"#fff"},
{"offset":0.84,"color":"#00b0f0"},{"offset":0.846,"color":"#00b0f0"},{"offset":0.846,"color":"#fff"},{"offset":0.88,"color":"#fff"},
{"offset":0.88,"color":"#00b0f0"},{"offset":0.886,"color":"#00b0f0"},{"offset":0.886,"color":"#fff"},{"offset":0.92,"color":"#fff"},
{"offset":0.92,"color":"#00b0f0"},{"offset":0.926,"color":"#00b0f0"},{"offset":0.926,"color":"#fff"},{"offset":0.96,"color":"#fff"},
{"offset":0.96,"color":"#00b0f0"},{"offset":0.966,"color":"#00b0f0"},{"offset":0.966,"color":"#fff"},{"offset":1,"color":"#fff"}]}},
"encoding": {
"x": {"field": "size", "type": "nominal", "scale": {"domain": ["5K", "50K", "RS", "500K"], "range": [93, 512], "paddingInner": 0, "paddingOuter": 0}},
"xOffset": {"field": "method", "type": "nominal", "scale": {"domain": ["Stripe", "Grid", "Single Round", "MELT"], "paddingInner": 0.12, "paddingOuter": 0.876}},
"y": {"field": "v", "type": "quantitative", "title": "Recall", "scale": {"domain": [0, 1], "range": [338, 63], "nice": false, "zero": true}}
}
},
{
"transform": [{"filter": "datum.method === 'Single Round'"}],
"mark": {"type": "bar", "width": 1.4, "fill": "#00b0f0"},
"encoding": {
"x": {"field": "size", "type": "nominal", "scale": {"domain": ["5K", "50K", "RS", "500K"], "range": [93, 512], "paddingInner": 0, "paddingOuter": 0}},
"xOffset": {"field": "method", "type": "nominal", "scale": {"domain": ["Stripe", "Grid", "Single Round", "MELT"], "paddingInner": 0.12, "paddingOuter": 0.876}},
"y": {"field": "v", "type": "quantitative", "title": "Recall", "scale": {"domain": [0, 1], "range": [338, 63], "nice": false, "zero": true}}
}
},
{
"transform": [{"filter": "datum.method === 'MELT'"}],
"mark": {"type": "bar", "fill": "#8064a2", "stroke": "#b3a2c7", "strokeWidth": 1},
"encoding": {
"x": {"field": "size", "type": "nominal", "scale": {"domain": ["5K", "50K", "RS", "500K"], "range": [93, 512], "paddingInner": 0, "paddingOuter": 0}},
"xOffset": {"field": "method", "type": "nominal", "scale": {"domain": ["Stripe", "Grid", "Single Round", "MELT"], "paddingInner": 0.12, "paddingOuter": 0.876}},
"y": {"field": "v", "type": "quantitative", "title": "Recall", "scale": {"domain": [0, 1], "range": [338, 63], "nice": false, "zero": true}}
}
}
]
}
]
}
